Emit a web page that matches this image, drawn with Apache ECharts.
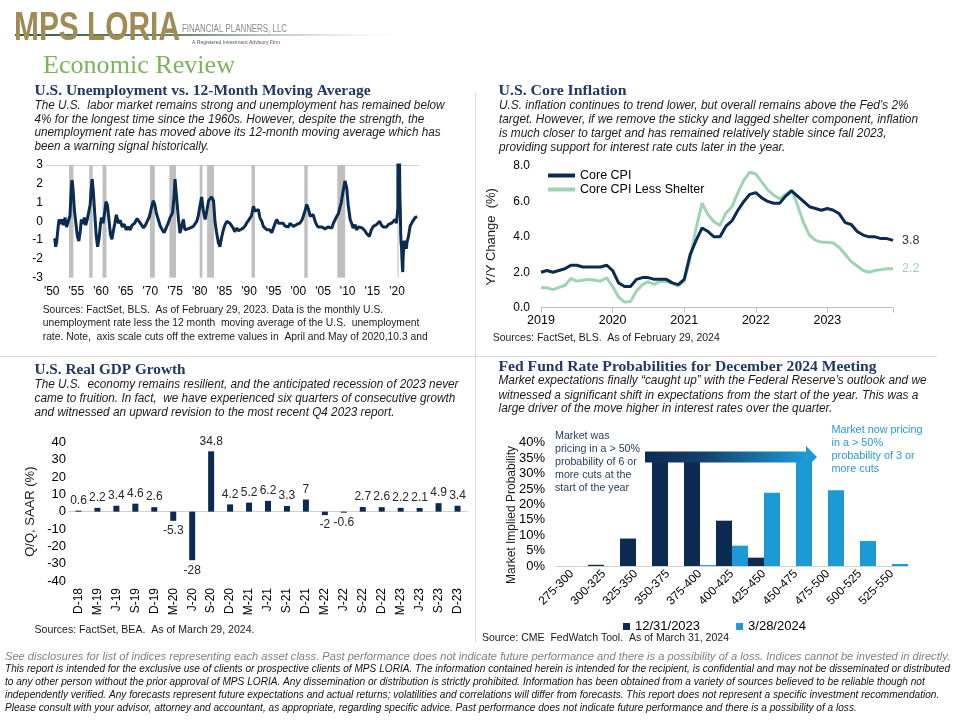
<!DOCTYPE html>
<html><head><meta charset="utf-8">
<script src="https://cdn.jsdelivr.net/npm/echarts@6/dist/echarts.min.js"></script>
<style>html,body{margin:0;padding:0;background:#fff}#c{width:960px;height:720px}</style>
</head><body><div id="c"></div>
<script>
// ---------------- DATA ----------------
// U.S. unemployment rate less its 12-month moving average: [decimal year, value]
const unempSeries = [
[1950.6,-0.9],[1950.8,-1.35],[1951.0,-1.1],[1951.3,-0.3],[1951.5,0.1],[1951.8,-0.15],[1952.1,0.1],[1952.4,-0.2],[1952.7,0.2],[1953.0,-0.3],
[1953.4,-0.25],[1953.7,0.3],[1953.9,1.4],[1954.1,2.2],[1954.3,1.8],[1954.6,0.6],[1954.9,-0.1],[1955.2,-0.8],[1955.5,-1.05],[1955.8,-0.5],
[1956.0,0.1],[1956.3,-0.15],[1956.6,0.2],[1956.9,-0.2],[1957.2,0.1],[1957.5,0.2],[1957.8,0.9],[1958.0,1.7],[1958.2,2.25],[1958.4,1.7],
[1958.7,0.5],[1959.0,-0.7],[1959.3,-1.35],[1959.6,-0.9],[1959.9,-0.1],[1960.1,0.2],[1960.4,-0.1],[1960.7,0.4],[1961.0,1.05],[1961.3,0.85],
[1961.6,0.1],[1961.9,-0.7],[1962.2,-0.95],[1962.5,-0.5],[1962.8,-0.1],[1963.1,0.35],[1963.5,-0.1],[1963.9,0.05],[1964.3,-0.3],[1964.7,-0.15],
[1965.1,-0.45],[1965.5,-0.3],[1965.9,-0.45],[1966.3,-0.2],[1966.8,-0.1],[1967.3,0.15],[1967.7,0.2],[1968.1,-0.15],[1968.6,-0.35],[1969.0,-0.2],
[1969.4,-0.1],[1969.8,0.25],[1970.2,0.7],[1970.6,1.1],[1970.9,0.9],[1971.2,0.45],[1971.6,0.1],[1972.0,-0.25],[1972.4,-0.45],[1972.8,-0.6],
[1973.2,-0.5],[1973.6,-0.1],[1974.0,0.2],[1974.5,0.45],[1974.8,1.3],[1975.0,2.25],[1975.3,1.3],[1975.7,0.1],[1976.0,-0.63],[1976.3,-0.72],
[1976.7,0.1],[1977.0,-0.45],[1977.4,-0.55],[1978.0,-0.36],[1978.4,-0.45],[1978.7,-0.27],[1979.1,-0.36],[1979.4,0.0],[1979.7,0.27],[1980.1,0.9],
[1980.4,1.3],[1980.7,0.63],[1981.1,0.1],[1981.4,0.5],[1981.8,1.1],[1982.4,1.3],[1982.8,1.1],[1983.1,0.0],[1983.4,-0.55],[1983.8,-1.15],
[1984.1,-1.35],[1984.4,-0.9],[1984.8,-0.45],[1985.1,-0.2],[1985.5,0.0],[1985.8,0.1],[1986.1,-0.1],[1986.5,0.0],[1986.8,-0.36],[1987.1,-0.55],
[1987.5,-0.36],[1987.9,-0.5],[1988.2,-0.4],[1988.8,-0.36],[1989.2,-0.25],[1989.5,-0.1],[1989.9,0.05],[1990.2,0.1],[1990.5,0.3],[1990.9,0.8],
[1991.2,0.55],[1991.5,0.45],[1991.9,0.63],[1992.2,0.2],[1992.6,0.0],[1992.9,-0.27],[1993.3,-0.35],[1993.6,-0.45],[1994.2,-0.45],[1994.6,-0.6],
[1994.9,-0.55],[1995.3,-0.1],[1995.6,0.1],[1996.0,-0.1],[1996.3,0.0],[1996.9,-0.1],[1997.3,-0.25],[1997.6,-0.2],[1998.0,-0.3],[1998.3,-0.1],
[1998.7,-0.2],[1999.0,-0.27],[1999.6,-0.18],[2000.0,-0.25],[2000.3,-0.1],[2000.7,0.05],[2001.0,0.27],[2001.4,0.6],[2001.7,0.9],[2002.0,0.7],
[2002.4,0.27],[2002.7,0.2],[2003.0,0.36],[2003.4,0.0],[2003.7,-0.18],[2004.0,-0.3],[2004.4,-0.36],[2004.8,-0.3],[2005.1,-0.27],[2005.4,-0.4],
[2005.7,-0.36],[2006.0,-0.3],[2006.4,-0.27],[2006.8,-0.35],[2007.1,-0.1],[2007.5,0.0],[2007.8,0.27],[2008.1,0.4],[2008.4,0.72],[2008.7,1.0],
[2009.0,1.5],[2009.45,2.15],[2009.8,1.8],[2010.1,0.9],[2010.5,0.1],[2010.8,-0.1],[2011.1,-0.36],[2011.5,-0.18],[2011.8,-0.45],[2012.2,-0.3],
[2012.5,-0.36],[2012.9,-0.35],[2013.2,-0.45],[2013.5,-0.5],[2013.8,-0.63],[2014.1,-0.6],[2014.4,-0.8],[2014.8,-0.45],[2015.2,-0.27],[2015.5,-0.35],
[2015.8,-0.18],[2016.2,-0.1],[2016.5,0.0],[2016.8,-0.18],[2017.2,-0.3],[2017.5,-0.27],[2017.9,-0.3],[2018.2,-0.18],[2018.6,-0.25],[2018.9,-0.1],
[2019.3,-0.15],[2019.6,0.1],[2019.9,-0.1],[2020.08,-0.2],[2020.17,0.7],[2020.25,10.3],[2020.33,7.8],[2020.42,5.0],[2020.5,3.7],[2020.58,1.46],
[2020.67,0.59],[2020.75,-0.68],[2020.83,-1.14],[2020.92,-1.4],[2021.0,-1.94],[2021.08,-2.37],[2021.17,-2.7],[2021.25,-1.88],[2021.33,-1.56],[2021.42,-1.03],
[2021.5,-1.13],[2021.58,-1.16],[2021.67,-1.29],[2021.75,-1.29],[2021.83,-1.38],[2021.92,-1.45],[2022.0,-1.15],[2022.17,-1.15],[2022.33,-0.8],[2022.5,-0.5],
[2022.67,-0.25],[2022.83,-0.15],[2023.0,-0.2],[2023.17,0.0],[2023.33,-0.05],[2023.5,0.05],[2023.67,0.2],[2023.83,0.25],[2024.0,0.2],[2024.08,0.25]
];
const recessionStarts = [1953.5, 1957.6, 1960.3, 1969.9, 1973.85, 1980.0, 1981.5, 1990.5, 2001.2, 2007.9, 2020.1];
const recessionEnds   = [1954.4, 1958.3, 1961.1, 1970.9, 1975.2, 1980.55, 1982.9, 1991.2, 2001.9, 2009.5, 2020.3];
const unempTickYears = [1950,1955,1960,1965,1970,1975,1980,1985,1990,1995,2000,2005,2010,2015,2020];

// U.S. Core Inflation, monthly Y/Y %, Mar 2019 .. Feb 2024
const cpiStartYear = 2019, cpiStartMonth = 3;
const cpiCore = [
2.0,2.1,2.0,2.1,2.2,2.4,2.4,2.3,2.3,2.3,2.3,2.4,
2.1,1.4,1.2,1.2,1.6,1.7,1.7,1.6,1.6,1.6,1.4,1.3,
1.6,3.0,3.8,4.5,4.3,4.0,4.0,4.6,4.9,5.5,6.0,6.4,
6.5,6.2,6.0,5.9,5.9,6.3,6.6,6.3,6.0,5.7,5.6,5.5,
5.6,5.5,5.3,4.8,4.7,4.3,4.1,4.0,4.0,3.9,3.9,3.8];
const cpiLessShelter = [
1.13,1.12,1.02,1.15,1.25,1.65,1.5,1.55,1.6,1.55,1.5,1.68,
1.2,0.6,0.32,0.35,0.95,1.3,1.47,1.32,1.5,1.47,1.38,1.22,
1.5,2.8,4.5,5.9,5.25,4.85,4.65,5.35,5.7,6.5,7.2,7.65,
7.55,7.1,6.65,6.35,6.15,6.4,6.65,5.8,4.8,4.1,3.8,3.7,
3.7,3.65,3.4,3.0,2.6,2.35,2.1,2.0,2.1,2.15,2.2,2.2];
const cpiMonths = cpiCore.map((_, i) => {
  const m = cpiStartMonth - 1 + i;
  return (cpiStartYear + Math.floor(m / 12)) + '-' + String(m % 12 + 1).padStart(2, '0');
});

// U.S. Real GDP growth, Q/Q SAAR %
const gdpQuarters = ['D-18','M-19','J-19','S-19','D-19','M-20','J-20','S-20','D-20','M-21','J-21','S-21','D-21','M-22','J-22','S-22','D-22','M-23','J-23','S-23','D-23'];
const gdpValues   = [0.6,2.2,3.4,4.6,2.6,-5.3,-28,34.8,4.2,5.2,6.2,3.3,7,-2,-0.6,2.7,2.6,2.2,2.1,4.9,3.4];

// Fed funds rate probabilities for the December 2024 meeting (%)
const fedRanges = ['275-300','300-325','325-350','350-375','375-400','400-425','425-450','450-475','475-500','500-525','525-550'];
const fedProbDec2023 = [0, 0.4, 8.9, 36.9, 36.4, 14.7, 2.7, 0, 0, 0, 0];
const fedProbMar2024 = [0, 0, 0, 0, 0.3, 6.6, 23.8, 36.0, 24.6, 8.1, 0.65];

// ---------------- STYLE / LAYOUT ----------------
const NAVY = '#0C2B50', CPI_LIGHT = '#9DD4B3', FED_LIGHT = '#1C9AD6', TITLE = '#1F3864';
const SANS = '"Liberation Sans", Arial, sans-serif', SERIF = '"Liberation Serif", "Times New Roman", serif';
const mctx = document.createElement('canvas').getContext('2d');
function tw(s, font) { mctx.font = font; return mctx.measureText(s).width; }
function block(lines, x, ys, o) {
  const font = (o.style || 'normal') + ' ' + (o.weight || 'normal') + ' ' + o.size + 'px ' + (o.family || SANS);
  const sx = o.fit ? o.fit / tw(lines[o.fitIdx || 0], font) : 1;
  return lines.map((s, i) => ({
    type: 'text', x: x, y: ys[i], scaleX: sx, z: 100, silent: true,
    style: { text: s, font: font, fill: o.color || '#1a1a1a', textAlign: 'left', textVerticalAlign: 'middle', verticalAlign: 'middle' }
  }));
}

const graphics = [];
// separators
graphics.push({type:'line', shape:{x1:475.5,y1:93,x2:475.5,y2:642}, style:{stroke:'#D9D9D9',lineWidth:1}, silent:true});
graphics.push({type:'line', shape:{x1:0,y1:356.5,x2:937,y2:356.5}, style:{stroke:'#D9D9D9',lineWidth:1}, silent:true});
// logo
graphics.push({type:'rect', shape:{x:15,y:34,width:385,height:2}, silent:true,
  style:{fill:new echarts.graphic.LinearGradient(0,0,1,0,[{offset:0,color:'#2F5D44'},{offset:0.45,color:'#6E8C74'},{offset:1,color:'rgba(200,210,200,0)'}])}});
graphics.push(...block(['MPS LORIA'], 14, [29], {size:40, weight:'bold', color:'#A08B55', fit:166}));
graphics.push(...block(['FINANCIAL PLANNERS, LLC'], 182, [29], {size:10, color:'#8A8A8A', fit:105}));
graphics.push(...block(['A Registered Investment Advisory Firm'], 192, [42.5], {size:6, color:'#555', fit:88}));
graphics.push(...block(['Economic Review'], 43, [66], {size:26, family:SERIF, color:'#7AB55C', fit:192}));
// panel titles
graphics.push(...block(['U.S. Unemployment vs. 12-Month Moving Average'], 34.5, [91], {size:15, weight:'bold', family:SERIF, color:TITLE, fit:336}));
graphics.push(...block(['U.S. Core Inflation'], 498.5, [91.5], {size:15, weight:'bold', family:SERIF, color:TITLE, fit:128}));
graphics.push(...block(['U.S. Real GDP Growth'], 34.5, [370], {size:15, weight:'bold', family:SERIF, color:TITLE, fit:151}));
graphics.push(...block(['Fed Fund Rate Probabilities for December 2024 Meeting'], 498.5, [367], {size:15, weight:'bold', family:SERIF, color:TITLE, fit:378}));
// body texts
graphics.push(...block([
  'The U.S.  labor market remains strong and unemployment has remained below',
  '4% for the longest time since the 1960s. However, despite the strength, the',
  'unemployment rate has moved above its 12-month moving average which has',
  'been a warning signal historically.'], 34.5, [106,119.5,133,146.5], {size:12, style:'italic', fit:410}));
graphics.push(...block([
  'U.S. inflation continues to trend lower, but overall remains above the Fed\u2019s 2%',
  'target. However, if we remove the sticky and lagged shelter component, inflation',
  'is much closer to target and has remained relatively stable since fall 2023,',
  'providing support for interest rate cuts later in the year.'], 499, [106,120,134,148], {size:12, style:'italic', fit:419, fitIdx:1}));
graphics.push(...block([
  'The U.S.  economy remains resilient, and the anticipated recession of 2023 never',
  'came to fruition. In fact,  we have experienced six quarters of consecutive growth',
  'and witnessed an upward revision to the most recent Q4 2023 report.'], 34.5, [385,398.7,412.3], {size:12, style:'italic', fit:424}));
graphics.push(...block([
  'Market expectations finally \u201ccaught up\u201d with the Federal Reserve\u2019s outlook and we',
  'witnessed a significant shift in expectations from the start of the year. This was a',
  'large driver of the move higher in interest rates over the quarter.'], 498.5, [381,395.3,409], {size:12, style:'italic', fit:428}));
// sources
graphics.push(...block([
  'Sources: FactSet, BLS.  As of February 29, 2023. Data is the monthly U.S.',
  'unemployment rate less the 12 month  moving average of the U.S.  unemployment',
  'rate. Note,  axis scale cuts off the extreme values in  April and May of 2020,10.3 and'], 42.7, [310,323.3,336.7], {size:10.5, color:'#1a1a1a', fit:385, fitIdx:2}));
graphics.push(...block(['Sources: FactSet, BLS.  As of February 29, 2024'], 492.7, [338.3], {size:10.5, fit:227}));
graphics.push(...block(['Sources: FactSet, BEA.  As of March 29, 2024.'], 34.5, [630], {size:10.5, fit:220}));
graphics.push(...block(['Source: CME  FedWatch Tool.  As of March 31, 2024'], 482, [638.5], {size:10.5, fit:247}));
// footer
graphics.push(...block(['See disclosures for list of indices representing each asset class. Past performance does not indicate future performance and there is a possibility of a loss. Indices cannot be invested in directly.'],
  5, [657], {size:10.5, style:'italic', color:'#7F7F7F', fit:945}));
graphics.push(...block([
  'This report is intended for the exclusive use of clients or prospective clients of MPS LORIA. The information contained herein is intended for the recipient, is confidential and may not be disseminated or distributed',
  'to any other person without the prior approval of MPS LORIA. Any dissemination or distribution is strictly prohibited. Information has been obtained from a variety of sources believed to be reliable though not',
  'independently verified. Any forecasts represent future expectations and actual returns; volatilities and correlations will differ from forecasts. This report does not represent a specific investment recommendation.',
  'Please consult with your advisor, attorney and accountant, as appropriate, regarding specific advice. Past performance does not indicate future performance and there is a possibility of a loss.'],
  5, [669,682,695,708], {size:10, style:'italic', color:'#111', fit:945}));
// fed annotations
graphics.push({type:'rect', shape:{x:645,y:451.5,width:161,height:11}, z:90, silent:true,
  style:{fill:new echarts.graphic.LinearGradient(0,0,1,0,[{offset:0,color:NAVY},{offset:0.35,color:'#143F6B'},{offset:1,color:FED_LIGHT}])}});
graphics.push({type:'polygon', shape:{points:[[806,446],[817,457],[806,468]]}, z:90, silent:true, style:{fill:FED_LIGHT}});
graphics.push(...block(['Market was','pricing in a > 50%','probability of 6 or','more cuts at the','start of the year'],
  555, [436,449,462,475,488], {size:11.5, color:'#1F3A5F', fit:85, fitIdx:1}));
graphics.push(...block(['Market now pricing','in a > 50%','probability of 3 or','more cuts'],
  831.5, [430,443.3,456,469], {size:11.5, color:'#2A9BD6', fit:91}));
graphics.push({type:'text', x:512, y:515, rotation:Math.PI/2, z:100, silent:true,
  style:{text:'Market Implied Probability', font:'12px ' + SANS, fill:'#1a1a1a', textAlign:'center', textVerticalAlign:'middle', verticalAlign:'middle'}});

// ---------------- CHART ----------------
const axisText = {color:'#000', fontSize:12, fontFamily:SANS};
const hidden = {show:false};
const option = {
  animation: false,
  backgroundColor: '#fff',
  textStyle: {fontFamily: SANS},
  grid: [
    {left:46, top:165, width:373, height:112.7},
    {left:541, top:166, width:352, height:141.7},
    {left:69, top:442.3, width:398, height:138.7},
    {left:556, top:442.7, width:352, height:123.3}
  ],
  legend: [
    {data:['Core CPI','Core CPI Less Shelter'], orient:'vertical', left:543, top:164, icon:'rect', itemWidth:27, itemHeight:4, itemGap:1,
     textStyle:{color:'#000', fontSize:12.5, fontFamily:SANS, lineHeight:13}, selectedMode:false},
    {data:['12/31/2023','3/28/2024'], left:623, top:620, icon:'rect', itemWidth:7, itemHeight:7, itemGap:36, padding:0,
     textStyle:{color:'#000', fontSize:13, fontFamily:SANS}, selectedMode:false}
  ],
  xAxis: [
    {type:'value', gridIndex:0, min:1948.84, max:2024.46, axisLine:hidden, axisTick:hidden, splitLine:hidden,
     axisLabel:Object.assign({customValues:unempTickYears, formatter:v => "'" + String(v).slice(2), margin:8}, axisText)},
    {type:'value', gridIndex:0, min:1948.84, max:2024.46, axisLine:{show:true, onZero:true, lineStyle:{color:'#D0D0D0'}},
     axisTick:hidden, axisLabel:hidden, splitLine:hidden},
    {type:'category', gridIndex:1, data:cpiMonths, boundaryGap:false,
     axisLine:{lineStyle:{color:'#BFBFBF'}},
     axisTick:{show:true, length:5, interval:(i) => i % 12 === 0 || i === cpiMonths.length - 1, lineStyle:{color:'#BFBFBF'}},
     axisLabel:Object.assign({interval:(i) => i % 12 === 0, formatter:v => v.slice(0,4), margin:6, fontSize:12.5}, {color:'#000', fontFamily:SANS}),
     splitLine:hidden},
    {type:'category', gridIndex:2, data:gdpQuarters, axisLine:{show:false, onZero:false}, axisTick:hidden, splitLine:hidden,
     axisLabel:Object.assign({interval:0, rotate:90, margin:7}, axisText)},
    {type:'value', gridIndex:2, min:0, max:1, axisLine:{show:true, onZero:true, lineStyle:{color:'#D0D0D0'}},
     axisTick:hidden, axisLabel:hidden, splitLine:hidden},
    {type:'category', gridIndex:3, data:fedRanges, axisLine:{lineStyle:{color:'#D0D0D0'}}, axisTick:hidden, splitLine:hidden,
     axisLabel:Object.assign({interval:0, rotate:45, margin:6}, axisText)}
  ],
  yAxis: [
    {type:'value', gridIndex:0, min:-3, max:3, interval:1, axisLine:hidden, axisTick:hidden, splitLine:hidden,
     axisLabel:Object.assign({margin:3}, axisText)},
    {type:'value', gridIndex:1, min:0, max:8, interval:2, axisLine:hidden, axisTick:hidden, splitLine:hidden,
     axisLabel:Object.assign({margin:11, formatter:v => v.toFixed(1)}, axisText),
     name:'Y/Y Change  (%)', nameLocation:'middle', nameGap:43, nameTextStyle:{color:'#1a1a1a', fontSize:13, fontFamily:SANS}},
    {type:'value', gridIndex:2, min:-40, max:40, interval:10, axisLine:hidden, axisTick:hidden, splitLine:hidden,
     axisLabel:Object.assign({margin:3}, axisText, {fontSize:13}),
     name:'Q/Q, SAAR (%)', nameLocation:'middle', nameGap:32, nameTextStyle:{color:'#1a1a1a', fontSize:13, fontFamily:SANS}},
    {type:'value', gridIndex:3, min:0, max:40, interval:5, axisLine:hidden, axisTick:hidden, splitLine:hidden,
     axisLabel:Object.assign({margin:11, formatter:'{value}%'}, axisText, {fontSize:13})}
  ],
  series: [
    {name:'Unemployment less 12M MA', type:'line', xAxisIndex:0, yAxisIndex:0, data:unempSeries, symbol:'none', showSymbol:false,
     lineStyle:{color:NAVY, width:3}, itemStyle:{color:NAVY}, z:3, clip:true, silent:true,
     markArea:{silent:true, itemStyle:{color:'#BFBFBF'},
       data:recessionStarts.map((s, i) => [{xAxis:s}, {xAxis:recessionEnds[i]}])}},
    {name:'Core CPI', type:'line', xAxisIndex:2, yAxisIndex:1, data:cpiCore, symbol:'none', showSymbol:false,
     lineStyle:{color:NAVY, width:3}, itemStyle:{color:NAVY}, z:4, silent:true,
     endLabel:{show:true, formatter:p => Number(p.value).toFixed(1), color:'#333', fontSize:12.5, distance:9, fontFamily:SANS}},
    {name:'Core CPI Less Shelter', type:'line', xAxisIndex:2, yAxisIndex:1, data:cpiLessShelter, symbol:'none', showSymbol:false,
     lineStyle:{color:CPI_LIGHT, width:3}, itemStyle:{color:CPI_LIGHT}, z:3, silent:true,
     endLabel:{show:true, formatter:p => Number(p.value).toFixed(1), color:CPI_LIGHT, fontSize:12.5, distance:9, fontFamily:SANS}},
    {name:'Real GDP', type:'bar', xAxisIndex:3, yAxisIndex:2, barWidth:6, itemStyle:{color:NAVY}, silent:true,
     label:{show:true, color:'#262626', fontSize:12, fontFamily:SANS, distance:4, formatter:p => String(p.value)},
     data:gdpValues.map(v => ({value:v, label:{position: v < 0 ? 'bottom' : 'top'}}))},
    {name:'12/31/2023', type:'bar', xAxisIndex:5, yAxisIndex:3, data:fedProbDec2023, itemStyle:{color:NAVY},
     barGap:'0%', barCategoryGap:'0%', silent:true},
    {name:'3/28/2024', type:'bar', xAxisIndex:5, yAxisIndex:3, data:fedProbMar2024, itemStyle:{color:FED_LIGHT},
     barGap:'0%', barCategoryGap:'0%', silent:true}
  ],
  graphic: graphics
};
const chart = echarts.init(document.getElementById('c'), null, {renderer:'canvas'});
chart.setOption(option);
</script></body></html>
